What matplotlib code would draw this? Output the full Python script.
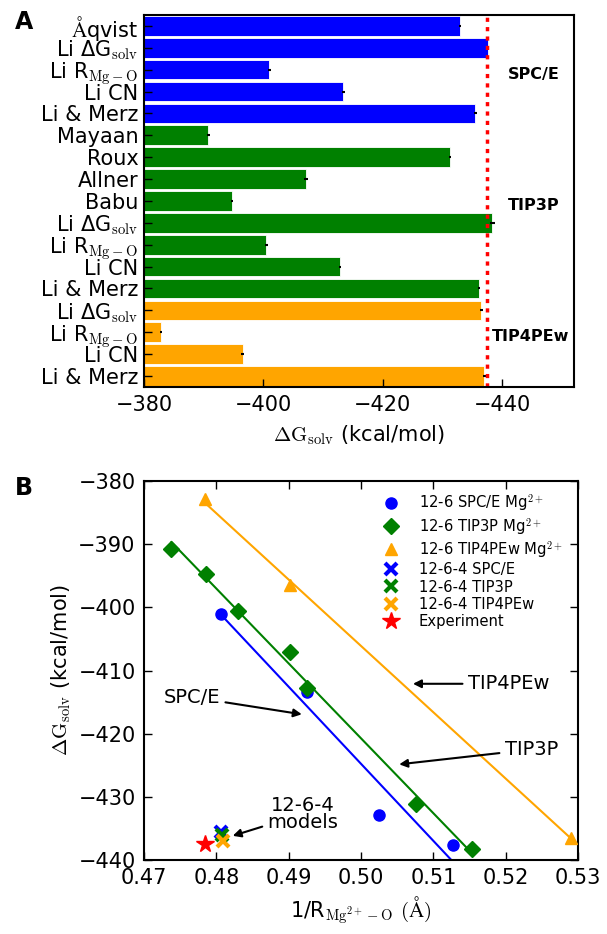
import numpy as np
import matplotlib
matplotlib.use("Agg")
import matplotlib.pyplot as plt

plt.rcParams['font.family'] = ['DejaVu Sans']
plt.rcParams['mathtext.fontset'] = 'cm'

# ---------------- Panel A data ----------------
bar_labels = [r'$\mathrm{Å}$qvist', r'Li ΔG$_\mathrm{solv}$', r'Li R$_\mathrm{Mg-O}$', 'Li CN', 'Li & Merz',
              'Mayaan', 'Roux', 'Allner', 'Babu', r'Li ΔG$_\mathrm{solv}$', r'Li R$_\mathrm{Mg-O}$', 'Li CN', 'Li & Merz',
              r'Li ΔG$_\mathrm{solv}$', r'Li R$_\mathrm{Mg-O}$', 'Li CN', 'Li & Merz']
bar_values = [-432.9, -437.6, -401.0, -413.4, -435.5,
              -390.8, -431.2, -407.1, -394.7, -438.3, -400.5, -412.8, -436.1,
              -436.5, -382.9, -396.5, -437.0]
bar_errors = [0.1, 0.2, 0.2, 0.2, 0.2,
              0.2, 0.2, 0.3, 0.2, 0.4, 0.3, 0.2, 0.2,
              0.3, 0.2, 0.2, 0.3]
bar_models = ['SPC/E'] * 5 + ['TIP3P'] * 8 + ['TIP4PEw'] * 4
model_colors = {'SPC/E': 'blue', 'TIP3P': 'green', 'TIP4PEw': 'orange'}
experiment = -437.4

# ---------------- Panel B data ----------------
spce_x = [0.4807, 0.4925, 0.5025, 0.5127]
spce_y = [-401.0, -413.4, -432.9, -437.6]
tip3p_x = [0.4738, 0.4786, 0.4830, 0.4902, 0.4926, 0.5076, 0.5154]
tip3p_y = [-390.8, -394.7, -400.5, -407.1, -412.8, -431.2, -438.3]
tip4p_x = [0.4784, 0.4902, 0.5291]
tip4p_y = [-382.9, -396.5, -436.5]
m1264_x = [0.4807, 0.4808, 0.4809]
m1264_y = [-435.5, -436.1, -437.0]
exp_x = 0.4784

fig = plt.figure(figsize=(6.07, 9.34), dpi=100)

# ---------------- Panel A ----------------
axA = fig.add_axes([0.2372, 0.5857, 0.7084, 0.3983])
ypos = np.arange(len(bar_values))
colors = [model_colors[m] for m in bar_models]
base = -380
widths = [v - base for v in bar_values]
axA.barh(ypos, widths, left=base, height=0.9, color=colors, edgecolor='white', linewidth=0.6,
         xerr=bar_errors, error_kw=dict(ecolor='black', elinewidth=1.5, capsize=0))
axA.axvline(experiment, color='red', linestyle=(0, (1.2, 1.5)), linewidth=2.5)
axA.set_xlim(-380, -452)
axA.set_ylim(len(bar_values) - 0.5, -0.5)
axA.set_yticks(ypos)
axA.set_yticklabels(bar_labels, fontsize=15)
axA.set_xticks([-380, -400, -420, -440])
axA.set_xticklabels(['−380', '−400', '−420', '−440'], fontsize=15)
axA.tick_params(direction='in', length=6, width=1, top=False, right=False, pad=6)
axA.tick_params(axis='y', pad=4)
for s in axA.spines.values():
    s.set_linewidth(1.5)
axA.set_xlabel(r'$\Delta\mathrm{G}_{\mathrm{solv}}$ (kcal/mol)', fontsize=15, labelpad=6)
axA.text(-440.9, 2.2, 'SPC/E', fontsize=11.5, fontweight='bold', va='center', ha='left')
axA.text(-440.9, 8.2, 'TIP3P', fontsize=11.5, fontweight='bold', va='center', ha='left')
axA.text(-438.2, 14.2, 'TIP4PEw', fontsize=11.5, fontweight='bold', va='center', ha='left')
fig.text(0.025, 0.976, 'A', fontsize=17, fontweight='bold', va='center', ha='left')

# ---------------- Panel B ----------------
axB = fig.add_axes([0.2372, 0.0792, 0.715, 0.4058])

def fit_line(xs, ys, color):
    p = np.polyfit(xs, ys, 1)
    xx = np.array([min(xs), max(xs)])
    axB.plot(xx, np.polyval(p, xx), color=color, linewidth=1.5, zorder=2)

fit_line(spce_x, spce_y, 'blue')
fit_line(tip3p_x, tip3p_y, 'green')
fit_line(tip4p_x, tip4p_y, 'orange')

axB.plot(spce_x, spce_y, 'o', color='blue', markersize=8, linestyle='none', zorder=3,
         label=r'12-6 SPC/E Mg$^{2+}$', clip_on=False)
axB.plot(tip3p_x, tip3p_y, 'D', color='green', markersize=8, linestyle='none', zorder=3,
         label=r'12-6 TIP3P Mg$^{2+}$', clip_on=False)
axB.plot(tip4p_x, tip4p_y, '^', color='orange', markersize=9, linestyle='none', zorder=3,
         label=r'12-6 TIP4PEw Mg$^{2+}$', clip_on=False)
axB.plot([m1264_x[0]], [m1264_y[0]], 'x', color='blue', markersize=8, mew=3, linestyle='none',
         zorder=4, label='12-6-4 SPC/E')
axB.plot([m1264_x[1]], [m1264_y[1]], 'x', color='green', markersize=8, mew=3, linestyle='none',
         zorder=4, label='12-6-4 TIP3P')
axB.plot([m1264_x[2]], [m1264_y[2]], 'x', color='orange', markersize=8, mew=3, linestyle='none',
         zorder=4, label='12-6-4 TIP4PEw')
axB.plot([exp_x], [experiment], '*', color='red', markersize=13, linestyle='none', zorder=4,
         label='Experiment')

axB.set_xlim(0.47, 0.53)
axB.set_ylim(-440, -380)
axB.set_xticks([0.47, 0.48, 0.49, 0.50, 0.51, 0.52, 0.53])
axB.set_xticklabels(['0.47', '0.48', '0.49', '0.50', '0.51', '0.52', '0.53'], fontsize=15)
axB.set_yticks([-380, -390, -400, -410, -420, -430, -440])
axB.set_yticklabels(['−380', '−390', '−400', '−410', '−420', '−430', '−440'], fontsize=15)
axB.tick_params(direction='in', length=6, width=1, top=True, right=True, pad=6)
for s in axB.spines.values():
    s.set_linewidth(1.5)
axB.set_xlabel(r'1/R$_{\mathrm{Mg^{2+}-O}}$ $(\mathrm{Å})$', fontsize=15, labelpad=4)
axB.set_ylabel(r'$\Delta\mathrm{G}_{\mathrm{solv}}$ (kcal/mol)', fontsize=15, labelpad=4)

leg = axB.legend(loc='upper right', fontsize=10.6, frameon=False, numpoints=1,
                 handletextpad=1.1, handlelength=1.6, labelspacing=0.16,
                 bbox_to_anchor=(0.995, 1.005))

arrow = dict(arrowstyle='-|>', color='black', lw=1.5, mutation_scale=12)
axB.annotate('SPC/E', xy=(0.4922, -417.0), xytext=(0.4805, -414.2), fontsize=14,
             ha='right', va='center', arrowprops=arrow)
axB.annotate('TIP4PEw', xy=(0.5068, -412.1), xytext=(0.5148, -412.1), fontsize=14,
             ha='left', va='center', arrowprops=arrow)
axB.annotate('TIP3P', xy=(0.5049, -424.9), xytext=(0.5199, -422.5), fontsize=14,
             ha='left', va='center', arrowprops=arrow)
axB.annotate('12-6-4\nmodels', xy=(0.4819, -436.3), xytext=(0.4920, -432.7), fontsize=14,
             ha='center', va='center', linespacing=0.85, arrowprops=arrow)
fig.text(0.025, 0.478, 'B', fontsize=17, fontweight='bold', va='center', ha='left')

fig.savefig('out.png', dpi=100)
